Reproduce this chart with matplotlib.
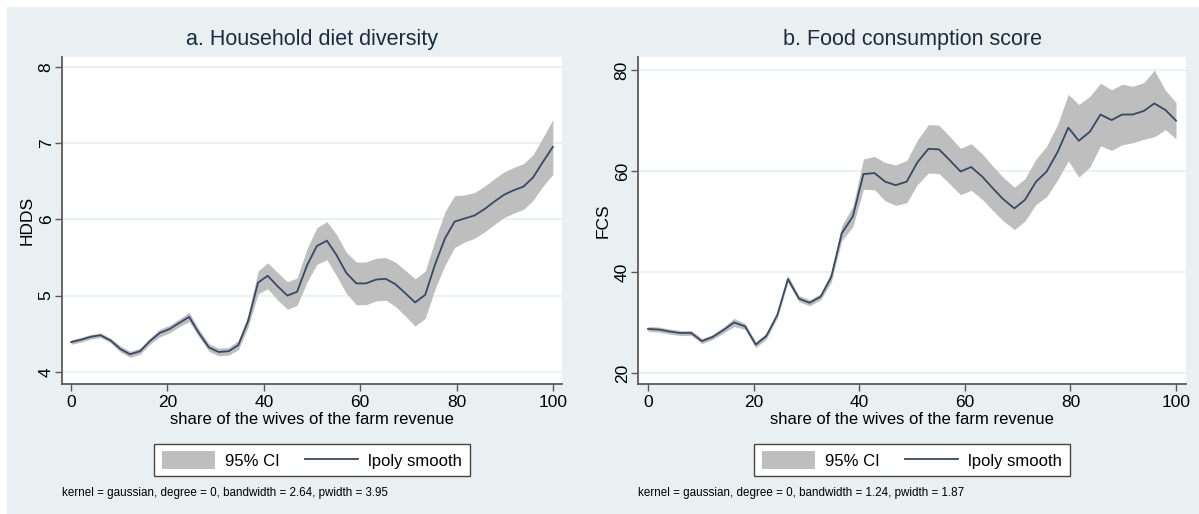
import numpy as np
import matplotlib.pyplot as plt
from matplotlib.patches import Rectangle, Patch
from matplotlib.lines import Line2D

plt.rcParams['font.family'] = ['Liberation Sans', 'DejaVu Sans']

# evaluation grid of the local polynomial smooth
grid = [0, 2.0, 4.1, 6.1, 8.2, 10.2, 12.2, 14.3, 16.3, 18.4,
        20.4, 22.4, 24.5, 26.5, 28.6, 30.6, 32.7, 34.7, 36.7, 38.8,
        40.8, 42.9, 44.9, 46.9, 49.0, 51.0, 53.1, 55.1, 57.1, 59.2,
        61.2, 63.3, 65.3, 67.3, 69.4, 71.4, 73.5, 75.5, 77.6, 79.6,
        81.6, 83.7, 85.7, 87.8, 89.8, 91.8, 93.9, 95.9, 98.0, 100]

# household diet diversity score
hdds = [4.39, 4.42, 4.46, 4.48, 4.41, 4.30, 4.23, 4.27, 4.40, 4.51,
        4.56, 4.64, 4.72, 4.51, 4.32, 4.26, 4.27, 4.35, 4.66, 5.17,
        5.26, 5.12, 5.00, 5.05, 5.40, 5.65, 5.72, 5.53, 5.30, 5.16,
        5.16, 5.21, 5.22, 5.15, 5.03, 4.91, 5.01, 5.40, 5.75, 5.97,
        6.01, 6.05, 6.13, 6.23, 6.32, 6.38, 6.43, 6.55, 6.76, 6.95]
hdds_ci = [0.03, 0.03, 0.03, 0.03, 0.03, 0.04, 0.04, 0.04, 0.04, 0.05,
           0.05, 0.05, 0.06, 0.05, 0.05, 0.05, 0.05, 0.06, 0.08, 0.15,
           0.17, 0.18, 0.18, 0.18, 0.22, 0.24, 0.25, 0.27, 0.27, 0.28,
           0.28, 0.28, 0.28, 0.29, 0.30, 0.31, 0.31, 0.32, 0.35, 0.34,
           0.31, 0.30, 0.30, 0.30, 0.30, 0.30, 0.30, 0.30, 0.32, 0.36]

# food consumption score
fcs = [28.7, 28.6, 28.2, 27.9, 27.9, 26.3, 27.1, 28.5, 30.0, 29.2,
       25.6, 27.3, 31.5, 38.6, 34.7, 33.9, 35.1, 39.0, 47.7, 51.0,
       59.4, 59.6, 57.9, 57.2, 57.9, 61.7, 64.4, 64.3, 62.2, 59.9,
       60.8, 58.9, 56.6, 54.4, 52.6, 54.3, 57.9, 59.9, 63.8, 68.6,
       66.0, 67.8, 71.2, 70.1, 71.2, 71.2, 71.9, 73.4, 72.1, 70.0]
fcs_ci = [0.5, 0.5, 0.5, 0.5, 0.5, 0.5, 0.5, 0.6, 0.8, 0.6,
          0.6, 0.6, 0.6, 0.7, 0.6, 0.6, 0.6, 1.0, 1.5, 2.0,
          3.0, 3.3, 3.8, 4.0, 4.2, 4.4, 4.8, 4.8, 4.7, 4.6,
          4.6, 4.5, 4.4, 4.3, 4.2, 4.2, 4.5, 5.0, 5.5, 6.6,
          7.2, 7.0, 6.2, 6.0, 6.0, 5.6, 5.6, 6.6, 3.9, 3.6]

W, H = 1199, 514
bg = '#E9F0F2'
navy = '#34496A'
band = '#BEBEBE'
axcol = '#5A5A5A'

fig = plt.figure(figsize=(W / 100, H / 100), dpi=100, facecolor='white')
fig.patches.append(Rectangle((7 / W, 0), 1 - 7 / W, 1 - 7 / H,
                             transform=fig.transFigure, facecolor=bg,
                             edgecolor='none', zorder=-10))


def panel(left, right, x, y, ci, yticks, ylim, title, ylab, note):
    ax = fig.add_axes([left / W, 1 - 384 / H, (right - left) / W, (384 - 57) / H])
    x = np.array(x)
    y = np.array(y)
    ci = np.array(ci)
    ax.fill_between(x, y - ci, y + ci, color=band, lw=0, zorder=2)
    ax.plot(x, y, color=navy, lw=1.3, zorder=3)
    ax.set_xlim(-1.9, 101.9)
    ax.set_ylim(*ylim)
    ax.set_xticks([0, 20, 40, 60, 80, 100])
    ax.set_yticks(yticks)
    ax.set_yticklabels([str(t) for t in yticks], rotation=90, va='center')
    ax.grid(axis='y', color='#E8EEF0', lw=1.2, zorder=1)
    ax.set_axisbelow(True)
    for s in ['top', 'right']:
        ax.spines[s].set_visible(False)
    for s in ['left', 'bottom']:
        ax.spines[s].set_color(axcol)
        ax.spines[s].set_linewidth(1.3)
    ax.tick_params(axis='x', length=5, width=1, color=axcol, labelsize=12.5, pad=3)
    ax.tick_params(axis='y', length=5, width=1, color=axcol, labelsize=12.5, pad=1)
    ax.set_xlabel('share of the wives of the farm revenue', fontsize=12, labelpad=1)
    ax.set_ylabel(ylab, fontsize=12.5, labelpad=3)
    ax.set_title(title, fontsize=15.5, color='#1E2A44', pad=9)
    h1 = Patch(facecolor=band, edgecolor='none')
    h2 = Line2D([], [], color=navy, lw=1.3)
    ax.legend([h1, h2], ['95% CI', 'lpoly smooth'], loc='upper center',
              bbox_to_anchor=(0.5, -0.158), ncol=2, frameon=True, fancybox=False,
              edgecolor='#444444', framealpha=1, fontsize=12, handlelength=3.2,
              handleheight=1.2, columnspacing=1.5, borderpad=0.45, handletextpad=0.6)
    fig.text(left / W, 1 - 493 / H, note, fontsize=8.4, va='center', ha='left')
    return ax


panel(62, 562, grid, hdds, hdds_ci, [4, 5, 6, 7, 8], (3.84, 8.13),
      'a. Household diet diversity', 'HDDS',
      'kernel = gaussian, degree = 0, bandwidth = 2.64, pwidth = 3.95')
panel(638, 1186, grid, fcs, fcs_ci, [20, 40, 60, 80], (17.8, 82.6),
      'b. Food consumption score', 'FCS',
      'kernel = gaussian, degree = 0, bandwidth = 1.24, pwidth = 1.87')

fig.savefig('out.png', dpi=100, facecolor=fig.get_facecolor())
